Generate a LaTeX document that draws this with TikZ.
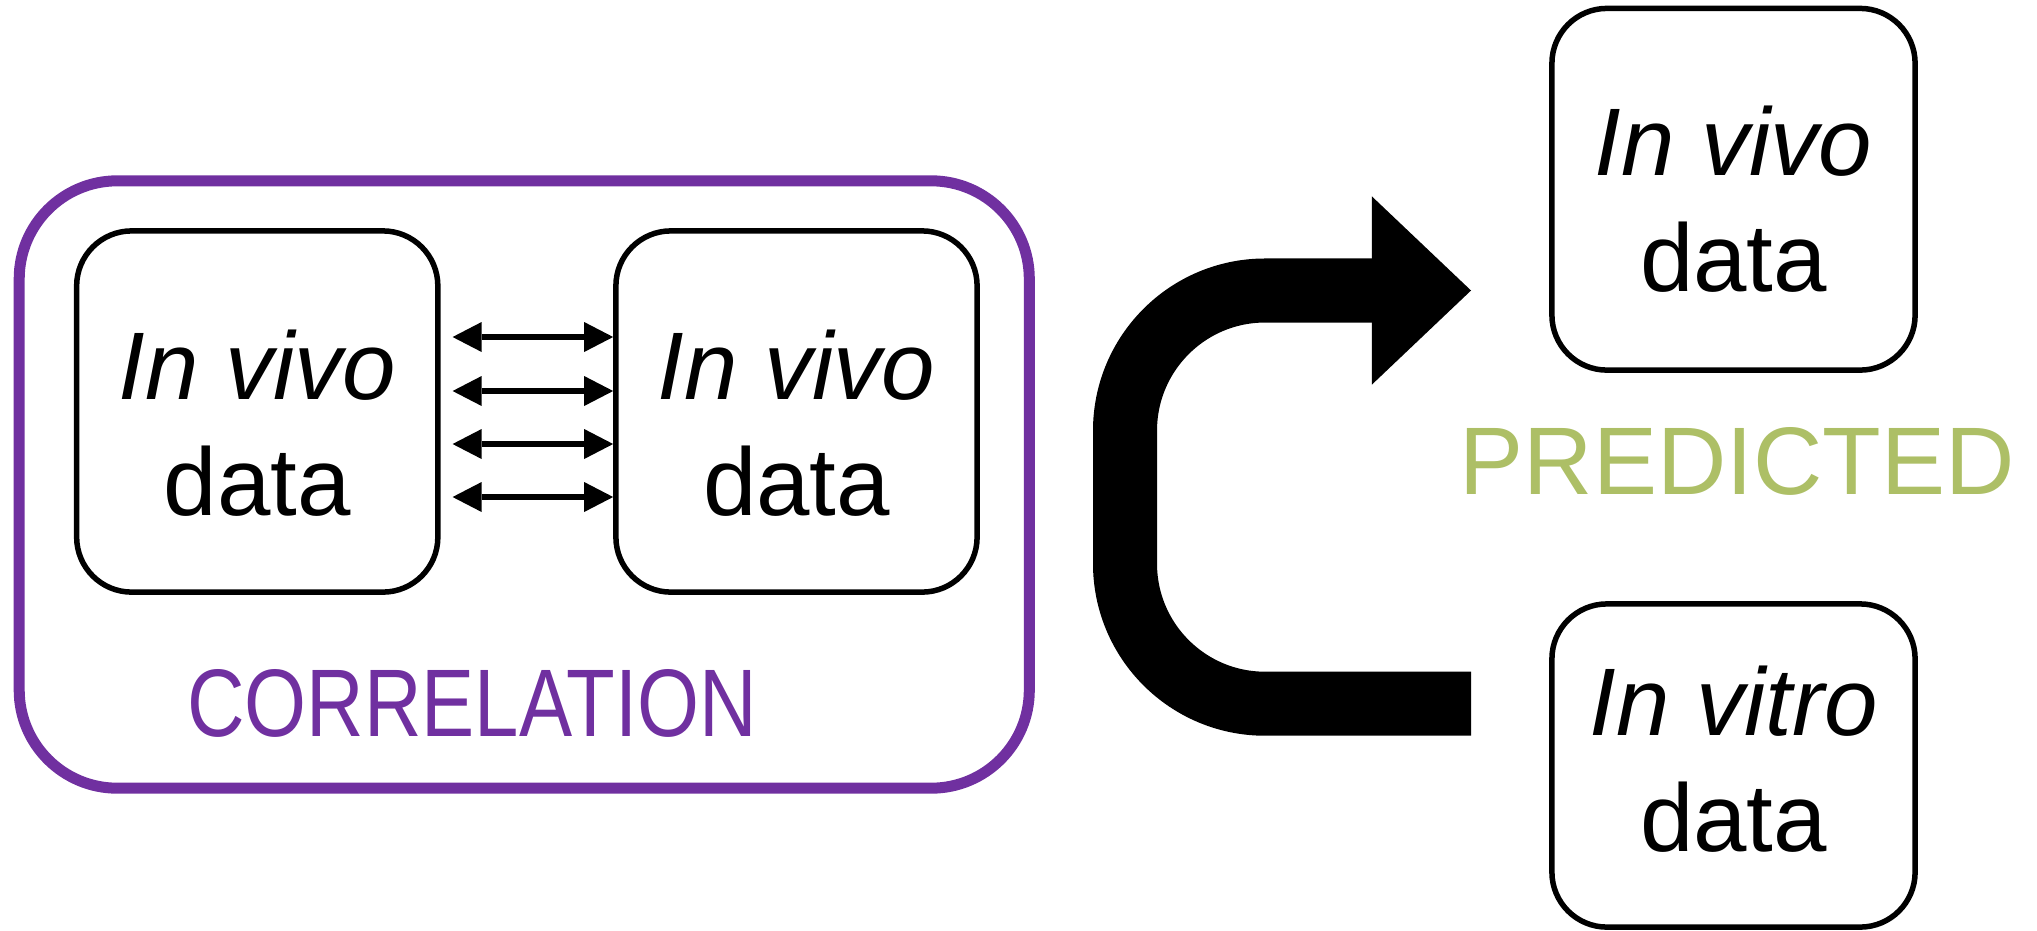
\documentclass[tikz,border=0pt]{standalone}
\usepackage{fontspec}
\setmainfont{Liberation Sans}
\usetikzlibrary{arrows.meta}
\definecolor{corrpurple}{RGB}{112,48,160}
\definecolor{predgreen}{RGB}{173,191,102}
\begin{document}
\begin{tikzpicture}[x=0.01cm,y=-0.01cm,
  databox/.style={draw,line width=0.55mm,rounded corners=5.5mm,minimum width=36.1mm,minimum height=36.1mm,inner sep=0pt},
  datatext/.style={align=center,inner sep=0pt,font=\fontsize{27.3pt}{33pt}\selectfont},
  pairarrow/.style={{Triangle[length=2.9mm,width=3mm,line width=0pt]}-{Triangle[length=2.9mm,width=3mm,line width=0pt]},line width=0.6mm},
  bigarrow/.style={-{Triangle[length=9.9mm,width=18.8mm,line width=0pt]},line width=6.4mm,rounded corners=14mm}]
\useasboundingbox (0,0) rectangle (2037,930);
% correlation frame with the two in vivo sets
\node[draw=corrpurple,line width=1.1mm,rounded corners=9.8mm,minimum width=100.95mm,minimum height=60.7mm] (corr) at (524.25,484.5) {};
\node[databox] (vivoA) at (257.25,411.5) {};
\node[databox] (vivoB) at (796.5,411.5) {};
\node[datatext] (vivoAtext) at (257.25,423) {\textit{In vivo}\\data};
\node[datatext] (vivoBtext) at (796.5,423) {\textit{In vivo}\\data};
\foreach \y in {337,391,444,497}
  \draw[pairarrow,shorten <=1.2mm] (vivoA.east |- 0,\y) -- (vivoB.west |- 0,\y);
\node[datatext,text=corrpurple] (corrlabel) at (472,703) {\scalebox{0.83}[1]{CORRELATION}};
% predicted side
\node[databox,minimum width=36.3mm,minimum height=36.15mm] (vivoPred) at (1733.5,189.25) {};
\node[databox,minimum width=36.3mm,minimum height=32.3mm] (vitroPred) at (1733.5,765.5) {};
\node[datatext] (vivoPredtext) at (1733.5,199.5) {\textit{In vivo}\\data};
\node[datatext] (vitroPredtext) at (1733.5,759.5) {\textit{In vitro}\\data};
\node[datatext,text=predgreen] (predlabel) at (1737,461.5) {PREDICTED};
\coordinate (loopEnd) at (1471,703.7);
\coordinate (loopTip) at (1471,290.5);
\draw[bigarrow] (loopEnd) -| (1125,290.5) -- (loopTip);
\end{tikzpicture}
\end{document}
